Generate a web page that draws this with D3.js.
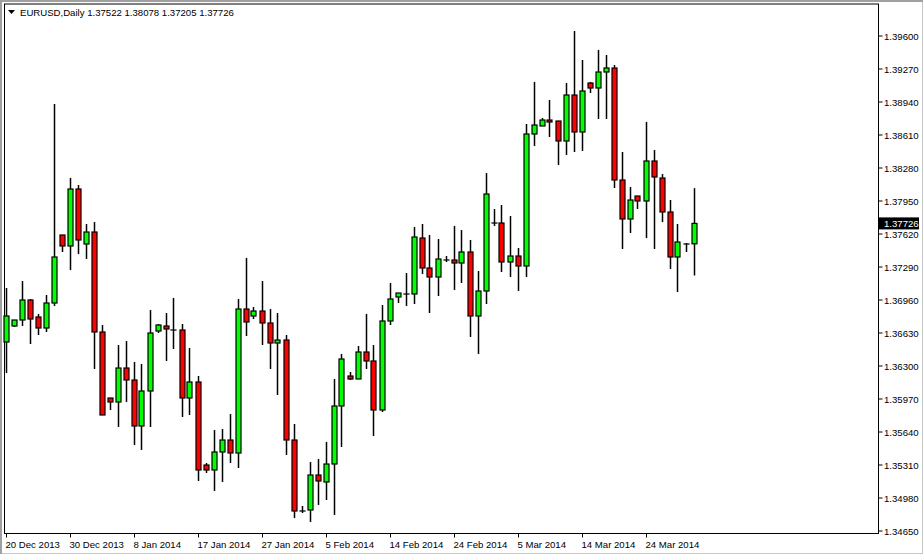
<!DOCTYPE html>
<html><head><meta charset="utf-8">
<script src="https://cdn.jsdelivr.net/npm/d3@7"></script>
<style>body{margin:0;background:#fff}svg{display:block}text{font-family:"Liberation Sans",Arial,sans-serif;font-size:9.6px;fill:#000}</style>
</head><body>
<script>
const opens=[1.3654,1.3670,1.3676,1.3696,1.3679,1.3668,1.3693,1.3761,1.3750,1.3807,1.3752,1.3764,1.3664,1.3598,1.3594,1.3628,1.3616,1.3570,1.3605,1.3665,1.3670,1.3666,1.3666,1.3598,1.3614,1.3531,1.3526,1.3544,1.3556,1.3543,1.3687,1.3680,1.3685,1.3673,1.3653,1.3656,1.3556,1.3485,1.3486,1.3521,1.3514,1.3532,1.3590,1.3620,1.3617,1.3644,1.3635,1.3586,1.3675,1.3699,1.3702,1.3702,1.3758,1.3728,1.3719,1.3736,1.3736,1.3733,1.3744,1.3680,1.3705,1.3773,1.3773,1.3734,1.3740,1.3730,1.3862,1.3870,1.3876,1.3875,1.3855,1.3901,1.3864,1.3913,1.3908,1.3924,1.3928,1.3816,1.3777,1.3800,1.3795,1.3835,1.3818,1.3784,1.3739,1.3752,1.37522];
const highs=[1.3708,1.3676,1.3715,1.3697,1.3682,1.3701,1.3892,1.3761,1.3818,1.3811,1.3772,1.3774,1.3671,1.3598,1.3651,1.3655,1.3634,1.3632,1.3686,1.3672,1.3683,1.3698,1.3672,1.3648,1.3620,1.3533,1.3566,1.3567,1.3582,1.3697,1.3738,1.3689,1.3715,1.3687,1.3683,1.3661,1.3572,1.3490,1.3534,1.3537,1.3554,1.3617,1.3642,1.3624,1.3650,1.3682,1.3651,1.3691,1.3713,1.3703,1.3723,1.3769,1.3772,1.3761,1.3757,1.3740,1.3770,1.3766,1.3756,1.3725,1.3823,1.3787,1.3791,1.3780,1.3748,1.3872,1.3914,1.3878,1.3896,1.3875,1.3913,1.3965,1.3936,1.3914,1.3946,1.3941,1.3931,1.3844,1.3809,1.3800,1.3874,1.3846,1.3822,1.3796,1.3772,1.3753,1.38078];
const lows=[1.3623,1.3669,1.3670,1.3652,1.3661,1.3664,1.3690,1.3744,1.3726,1.3742,1.3737,1.3627,1.3581,1.3586,1.3569,1.3594,1.3551,1.3546,1.3569,1.3663,1.3635,1.3647,1.3579,1.3581,1.3515,1.3523,1.3505,1.3514,1.3533,1.3528,1.3660,1.3677,1.3651,1.3627,1.3601,1.3541,1.3478,1.3483,1.3474,1.3491,1.3496,1.3481,1.3549,1.3616,1.3617,1.3627,1.3560,1.3584,1.3671,1.3693,1.3690,1.3692,1.3722,1.3683,1.3700,1.3734,1.3706,1.3713,1.3659,1.3642,1.3692,1.3770,1.3724,1.3719,1.3705,1.3719,1.3850,1.3870,1.3859,1.3831,1.3841,1.3844,1.3845,1.3903,1.3877,1.3877,1.3808,1.3747,1.3763,1.3787,1.3758,1.3747,1.3774,1.3727,1.3704,1.3744,1.37205];
const closes=[1.3680,1.3676,1.3696,1.3677,1.3668,1.3693,1.3739,1.3750,1.3807,1.3756,1.3764,1.3664,1.3581,1.3594,1.3628,1.3616,1.3570,1.3605,1.3663,1.3671,1.3667,1.3666,1.3598,1.3614,1.3526,1.3526,1.3544,1.3556,1.3543,1.3687,1.3674,1.3685,1.3673,1.3653,1.3656,1.3556,1.3485,1.3485,1.3521,1.3515,1.3532,1.3590,1.3637,1.3617,1.3644,1.3635,1.3586,1.3675,1.3697,1.3703,1.3702,1.3759,1.3728,1.3719,1.3737,1.3736,1.3733,1.3744,1.3680,1.3705,1.3802,1.3773,1.3734,1.3740,1.3730,1.3862,1.3871,1.3876,1.3874,1.3855,1.3901,1.3864,1.3905,1.3908,1.3924,1.3928,1.3816,1.3777,1.3796,1.3795,1.3835,1.3819,1.3784,1.3739,1.3754,1.3752,1.37726];
const dateLabels=["20 Dec 2013","30 Dec 2013","8 Jan 2014","17 Jan 2014","27 Jan 2014","5 Feb 2014","14 Feb 2014","24 Feb 2014","5 Mar 2014","14 Mar 2014","24 Mar 2014"];
const priceTicks=[1.39600,1.39270,1.38940,1.38610,1.38280,1.37950,1.37620,1.37290,1.36960,1.36630,1.36300,1.35970,1.35640,1.35310,1.34980,1.34650];
const header="EURUSD,Daily  1.37522 1.38078 1.37205 1.37726";
const lastPrice=1.37726;

const W=923,H=554,L=5,R=878.5,T=4,B=533.5;
const svg=d3.select("body").append("svg").attr("width",W).attr("height",H);
svg.append("rect").attr("x",0.5).attr("y",0.5).attr("width",W-1).attr("height",H-1).attr("fill","#fff").attr("stroke","#c8c8c8");
const n=opens.length;
const x=d3.scaleLinear().domain([0,n-1]).range([5.5,5.5+8*(n-1)]);
const y=d3.scaleLinear().domain([1.34650,1.39600]).range([531,36]);
svg.append("rect").attr("x",L-0.5).attr("y",T).attr("width",R-L+0.5).attr("height",B-T).attr("fill","none").attr("stroke","#000");
svg.append("line").attr("x1",1).attr("x2",1).attr("y1",0).attr("y2",H).attr("stroke","#a0a0a0").attr("stroke-width",2);
svg.append("line").attr("x1",0).attr("x2",W).attr("y1",1).attr("y2",1).attr("stroke","#a0a0a0").attr("stroke-width",2);
const g=svg.append("g");
const idx=d3.range(n);
g.selectAll(".w").data(idx).join("line").attr("x1",i=>Math.round(x(i))+0.5).attr("x2",i=>Math.round(x(i))+0.5)
 .attr("y1",i=>y(highs[i])).attr("y2",i=>y(lows[i])).attr("stroke","#000").attr("stroke-width",1.5);
g.selectAll(".b").data(idx).join("rect")
 .attr("x",i=>Math.round(x(i))-2).attr("width",5)
 .attr("y",i=>y(Math.max(opens[i],closes[i])))
 .attr("height",i=>Math.max(0.01,Math.abs(y(opens[i])-y(closes[i]))))
 .attr("fill",i=>closes[i]>opens[i]?"#00ff00":"#ff0000").attr("stroke","#000").attr("stroke-width",1.2);
const ra=svg.append("g");
priceTicks.forEach(p=>{
 ra.append("line").attr("x1",R).attr("x2",R+4).attr("y1",y(p)).attr("y2",y(p)).attr("stroke","#000");
 ra.append("text").attr("x",884).attr("y",y(p)+4).text(p.toFixed(5));
});
svg.append("rect").attr("x",879).attr("y",y(lastPrice)-6).attr("width",40).attr("height",12).attr("fill","#000");
svg.append("text").attr("x",884).attr("y",y(lastPrice)+4).style("fill","#fff").text(lastPrice.toFixed(5));
dateLabels.forEach((d,k)=>{
 const xx=Math.round(x(k*8))+0.5;
 svg.append("line").attr("x1",xx).attr("x2",xx).attr("y1",B).attr("y2",B+4).attr("stroke","#000");
 svg.append("text").attr("x",xx-1).attr("y",548).text(d);
});
svg.append("path").attr("d","M8,10 L15,10 L11.5,14 Z").attr("fill","#000");
svg.append("text").attr("x",20).attr("y",16).text(header);
</script>
</body></html>
